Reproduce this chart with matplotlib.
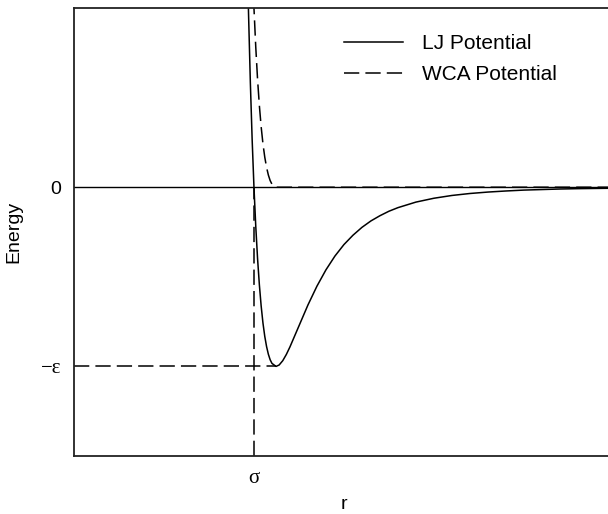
import matplotlib.pyplot as plt
import numpy as np

plt.rcParams['font.family'] = ['Liberation Sans', 'DejaVu Sans']

# separation r (in units of sigma) and energies (in units of epsilon)
r = [0.96, 0.965, 0.97, 0.98, 0.99, 1.00, 1.01, 1.02, 1.03, 1.04, 1.05,
     1.06, 1.07, 1.08, 1.09, 1.10, 1.1225, 1.14, 1.16, 1.18, 1.20, 1.25,
     1.30, 1.35, 1.40, 1.45, 1.50, 1.55, 1.60, 1.65, 1.70, 1.75, 1.80,
     1.90, 2.00, 2.10, 2.20, 2.30, 2.40, 2.50, 2.60, 2.70, 2.80, 3.00]
lj = [1.418, 1.180, 0.963, 0.582, 0.264, 0.0, -0.218, -0.398, -0.544,
      -0.663, -0.758, -0.832, -0.889, -0.932, -0.963, -0.983, -1.000,
      -0.992, -0.968, -0.933, -0.891, -0.774, -0.657, -0.552, -0.461,
      -0.384, -0.320, -0.268, -0.224, -0.188, -0.159, -0.134, -0.114,
      -0.083, -0.0615, -0.046, -0.035, -0.027, -0.021, -0.016, -0.013,
      -0.010, -0.008, -0.0055]
wca = [2.418, 2.180, 1.963, 1.582, 1.264, 1.0, 0.782, 0.602, 0.456,
       0.337, 0.242, 0.168, 0.111, 0.068, 0.037, 0.017, 0.0,
       0.0, 0.0, 0.0, 0.0, 0.0, 0.0, 0.0, 0.0, 0.0, 0.0, 0.0, 0.0, 0.0,
       0.0, 0.0, 0.0, 0.0, 0.0, 0.0, 0.0, 0.0, 0.0, 0.0, 0.0, 0.0, 0.0, 0.0]

sigma = 1.0
eps = 1.0
r_min = 1.1225

fig = plt.figure(figsize=(6.08, 5.14), dpi=100)
ax = fig.add_axes([0.1217, 0.1128, 0.888, 0.8716])

dash = (0, (10, 4))
ax.axhline(0, color='k', lw=1.0)
ax.plot(r, lj, color='k', lw=1.1, label='LJ Potential')
ax.plot(r, wca, color='k', lw=1.1, linestyle=dash, label='WCA Potential')

# guide lines marking sigma and -epsilon
ax.plot([0, r_min], [-eps, -eps], color='k', lw=1.1, linestyle=dash)
ax.plot([sigma, sigma], [-1.5, 0], color='k', lw=1.1, linestyle=dash)

ax.set_xlim(0, 3)
ax.set_ylim(-1.5, 1)

ax.set_xticks([sigma])
ax.set_xticklabels(['σ'], family=['Liberation Serif', 'DejaVu Serif'], fontsize=15)
ax.set_yticks([0, -eps])
ax.set_yticklabels(['0', '−ε'], fontsize=14)
ax.get_yticklabels()[1].set_family(['Liberation Serif', 'DejaVu Serif'])
ax.get_yticklabels()[1].set_fontsize(15)
ax.tick_params(length=0, pad=9)

ax.set_xlabel('r', fontsize=14)
ax.set_ylabel('Energy', fontsize=14)
ax.xaxis.set_label_coords(0.5, -0.09)
ax.yaxis.set_label_coords(-0.096, 0.5)

for s in ax.spines.values():
    s.set_linewidth(1.3)
    s.set_color('#222222')

ax.legend(loc='upper left', bbox_to_anchor=(0.465, 0.984), frameon=False,
          fontsize=15, handlelength=2.85, handletextpad=0.9, labelspacing=0.6)

fig.savefig('out.png', dpi=100)
